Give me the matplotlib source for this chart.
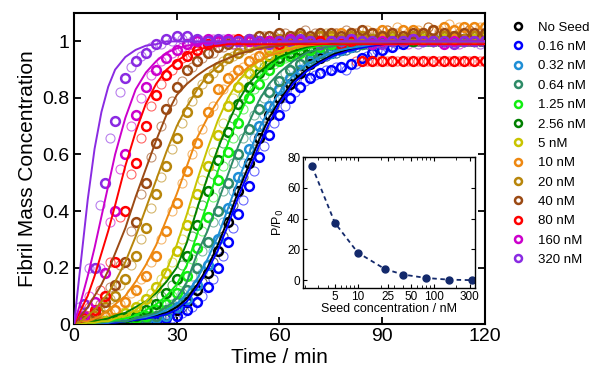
import numpy as np
import matplotlib
matplotlib.use('Agg')
import matplotlib.pyplot as plt
from matplotlib.lines import Line2D
from matplotlib.ticker import LogLocator, FixedLocator, NullFormatter

plt.rcParams['font.family'] = ['Liberation Sans', 'DejaVu Sans']

# time grid of the main measured points (min)
t_data = list(range(0, 121, 3))
# time grid of the replicate points (min)
t_rep = [x + 1.5 for x in range(0, 120, 3)]
# time grid of the fitted curves (min)
t_fit = [0, 2, 4, 6, 8, 10, 12,
         15, 18, 21, 24, 27, 30,
         33, 36, 39, 42, 45, 48,
         51, 54, 57, 60,
         64, 68, 72, 76, 80,
         85, 90, 100, 110, 120]

labels = ['No Seed', '0.16 nM', '0.32 nM', '0.64 nM', '1.25 nM', '2.56 nM', '5 nM',
          '10 nM', '20 nM', '40 nM', '80 nM', '160 nM', '320 nM']
colors = ['#000000', '#0000ff', '#1f8fd6', '#2e8b67', '#11ee11', '#008000', '#c9c400',
          '#ee8811', '#b8860b', '#9b4a14', '#ff0000', '#cc00cc', '#8a2be2']

# measured fibril mass concentration, one list per seed concentration
y_noseed = [0.00, 0.00, 0.00, 0.00, 0.00, 0.00, 0.01, 0.01, 0.01, 0.03, 0.05,
            0.08, 0.12, 0.18, 0.26, 0.36, 0.47, 0.57, 0.66, 0.74, 0.80,
            0.85, 0.89, 0.92, 0.94, 0.96, 0.97, 0.98, 0.99, 0.99, 1.00,
            1.00, 1.00, 1.00, 1.01, 1.00, 1.00, 1.00, 1.01, 1.00, 1.00]
y_016 = [0.00, 0.00, 0.00, 0.00, 0.00, 0.00, 0.00, 0.01, 0.01, 0.02, 0.03,
         0.05, 0.08, 0.13, 0.20, 0.29, 0.39, 0.49, 0.59, 0.67, 0.74,
         0.80, 0.84, 0.87, 0.89, 0.90, 0.91, 0.92, 0.94, 0.96, 0.97,
         0.98, 0.99, 1.00, 1.00, 1.01, 1.00, 1.00, 1.00, 1.01, 1.00]
y_032 = [0.00, 0.00, 0.00, 0.00, 0.00, 0.00, 0.01, 0.01, 0.02, 0.03, 0.06,
         0.09, 0.14, 0.21, 0.30, 0.41, 0.52, 0.62, 0.70, 0.77, 0.83,
         0.87, 0.90, 0.93, 0.95, 0.96, 0.97, 0.98, 0.99, 0.99, 1.00,
         1.00, 1.00, 1.01, 1.00, 1.00, 1.00, 1.01, 1.00, 1.00, 1.00]
y_064 = [0.00, 0.00, 0.00, 0.00, 0.00, 0.01, 0.01, 0.02, 0.03, 0.05, 0.08,
         0.12, 0.20, 0.29, 0.40, 0.50, 0.60, 0.69, 0.76, 0.82, 0.86,
         0.90, 0.92, 0.94, 0.96, 0.97, 0.98, 0.99, 0.99, 1.00, 1.00,
         1.00, 1.01, 1.00, 1.00, 1.01, 1.00, 1.00, 1.00, 1.01, 1.00]
y_125 = [0.00, 0.00, 0.00, 0.00, 0.01, 0.01, 0.02, 0.03, 0.05, 0.07, 0.11,
         0.17, 0.27, 0.38, 0.51, 0.61, 0.71, 0.80, 0.85, 0.90, 0.93,
         0.95, 0.96, 0.97, 0.98, 0.99, 1.00, 1.00, 1.00, 1.01, 1.00,
         1.00, 1.01, 1.00, 1.00, 1.00, 1.01, 1.00, 1.00, 1.00, 1.00]
y_256 = [0.00, 0.00, 0.00, 0.01, 0.01, 0.02, 0.03, 0.05, 0.07, 0.11, 0.16,
         0.24, 0.35, 0.47, 0.58, 0.68, 0.78, 0.84, 0.89, 0.92, 0.94,
         0.96, 0.97, 0.98, 0.99, 1.00, 1.00, 1.00, 1.01, 1.00, 1.00,
         1.01, 1.00, 1.00, 1.01, 1.00, 1.00, 1.01, 1.00, 1.00, 1.00]
y_5 = [0.00, 0.00, 0.01, 0.01, 0.02, 0.04, 0.06, 0.09, 0.13, 0.18, 0.26,
       0.35, 0.46, 0.56, 0.67, 0.77, 0.84, 0.89, 0.92, 0.95, 0.97,
       0.98, 0.99, 1.00, 1.00, 1.01, 1.00, 1.01, 1.01, 1.00, 1.01,
       1.01, 1.00, 1.01, 1.01, 1.00, 1.01, 1.01, 1.00, 1.01, 1.01]
y_10 = [0.00, 0.00, 0.01, 0.03, 0.05, 0.08, 0.12, 0.17, 0.24, 0.33, 0.43,
        0.54, 0.64, 0.75, 0.83, 0.87, 0.90, 0.93, 0.95, 0.97, 0.98,
        0.99, 1.00, 1.01, 1.02, 1.02, 1.03, 1.03, 1.02, 1.03, 1.04,
        1.03, 1.04, 1.04, 1.03, 1.04, 1.05, 1.04, 1.05, 1.05, 1.05]
y_20 = [0.00, 0.01, 0.03, 0.06, 0.10, 0.16, 0.24, 0.34, 0.46, 0.56, 0.66,
        0.75, 0.82, 0.87, 0.91, 0.94, 0.96, 0.98, 0.99, 1.00, 1.01,
        1.01, 1.02, 1.01, 1.02, 1.02, 1.01, 1.02, 1.02, 1.01, 1.02,
        1.02, 1.01, 1.02, 1.02, 1.01, 1.02, 1.02, 1.01, 1.02, 1.02]
y_40 = [0.00, 0.01, 0.04, 0.08, 0.14, 0.22, 0.36, 0.50, 0.64, 0.76, 0.84,
        0.90, 0.93, 0.96, 0.98, 0.99, 1.00, 1.01, 1.02, 1.02, 1.03,
        1.02, 1.03, 1.02, 1.03, 1.03, 1.02, 1.03, 1.04, 1.03, 1.02,
        1.03, 1.02, 1.03, 1.03, 1.04, 1.03, 1.02, 1.03, 1.03, 1.03]
y_80 = [0.00, 0.02, 0.05, 0.10, 0.22, 0.40, 0.57, 0.70, 0.81, 0.88, 0.92,
        0.95, 0.97, 0.99, 1.00, 1.00, 1.01, 1.00, 1.00, 1.00, 0.99,
        1.00, 1.00, 1.00, 1.00, 1.00, 0.99, 1.00, 0.93, 0.93, 0.93,
        0.93, 0.93, 0.93, 0.93, 0.93, 0.93, 0.93, 0.93, 0.93, 0.93]
y_160 = [0.00, 0.03, 0.08, 0.18, 0.40, 0.60, 0.74, 0.84, 0.90, 0.94, 0.97,
         0.99, 1.00, 1.01, 1.00, 1.01, 1.00, 1.00, 0.99, 1.00, 1.00,
         1.01, 1.00, 1.00, 0.99, 1.00, 1.00, 1.01, 1.00, 0.99, 1.00,
         1.00, 1.00, 1.01, 1.00, 1.00, 0.99, 1.00, 1.00, 1.00, 1.00]
y_320 = [0.00, 0.07, 0.20, 0.50, 0.72, 0.87, 0.93, 0.96, 0.99, 1.01, 1.02,
         1.02, 1.01, 1.00, 1.01, 1.00, 1.00, 1.01, 1.00, 0.99, 1.00,
         1.00, 1.01, 1.00, 0.99, 1.00, 1.00, 1.01, 1.00, 1.00, 0.99,
         1.00, 1.00, 1.01, 1.00, 1.00, 1.00, 0.99, 1.00, 1.00, 1.00]

# replicate runs (thin circles)
r_noseed = [0.00, 0.00, 0.00, 0.00, 0.00, 0.00, 0.01, 0.01, 0.02, 0.04,
            0.06, 0.10, 0.15, 0.22, 0.31, 0.42, 0.52, 0.62, 0.70, 0.77,
            0.83, 0.87, 0.90, 0.93, 0.95, 0.96, 0.97, 0.98, 0.99, 0.99,
            1.00, 1.00, 1.00, 1.01, 1.00, 1.00, 1.01, 1.00, 1.00, 1.00]
r_016 = [0.00, 0.00, 0.00, 0.00, 0.00, 0.00, 0.00, 0.01, 0.01, 0.02,
         0.04, 0.06, 0.10, 0.16, 0.24, 0.34, 0.44, 0.54, 0.63, 0.71,
         0.77, 0.82, 0.86, 0.88, 0.90, 0.91, 0.90, 0.92, 0.95, 0.97,
         0.98, 0.99, 1.00, 1.00, 1.01, 1.00, 1.00, 1.01, 1.00, 1.00]
r_032 = [0.00, 0.00, 0.00, 0.00, 0.00, 0.01, 0.01, 0.02, 0.03, 0.05,
         0.08, 0.12, 0.18, 0.26, 0.36, 0.47, 0.57, 0.66, 0.74, 0.80,
         0.85, 0.88, 0.91, 0.93, 0.95, 0.96, 0.97, 0.98, 0.99, 0.99,
         1.00, 1.00, 1.01, 1.00, 1.00, 1.01, 1.00, 1.00, 1.01, 1.00]
r_064 = [0.00, 0.00, 0.00, 0.00, 0.01, 0.01, 0.02, 0.03, 0.05, 0.07,
         0.11, 0.17, 0.26, 0.36, 0.47, 0.57, 0.66, 0.74, 0.80, 0.85,
         0.89, 0.92, 0.94, 0.95, 0.97, 0.98, 0.99, 1.00, 1.00, 1.01,
         1.00, 1.01, 1.00, 1.00, 1.01, 1.00, 1.01, 1.00, 1.00, 1.01]
r_125 = [0.00, 0.00, 0.01, 0.01, 0.01, 0.02, 0.03, 0.05, 0.07, 0.10,
         0.15, 0.23, 0.33, 0.45, 0.56, 0.66, 0.76, 0.83, 0.88, 0.92,
         0.94, 0.96, 0.97, 0.98, 0.99, 1.00, 1.00, 1.01, 1.00, 1.00,
         1.01, 1.00, 1.00, 1.01, 1.00, 1.00, 1.01, 1.00, 1.00, 1.01]
r_256 = [0.00, 0.00, 0.01, 0.01, 0.02, 0.03, 0.05, 0.07, 0.10, 0.14,
         0.21, 0.31, 0.42, 0.53, 0.64, 0.73, 0.81, 0.87, 0.91, 0.93,
         0.95, 0.97, 0.98, 0.99, 1.00, 0.99, 1.00, 1.01, 1.00, 1.01,
         1.00, 1.01, 1.00, 1.01, 1.00, 1.00, 1.01, 1.00, 1.01, 1.00]
r_5 = [0.00, 0.00, 0.01, 0.02, 0.03, 0.05, 0.07, 0.11, 0.16, 0.22,
       0.30, 0.40, 0.51, 0.61, 0.71, 0.80, 0.86, 0.90, 0.93, 0.96,
       0.97, 0.98, 0.99, 1.00, 1.01, 1.00, 1.01, 1.02, 1.01, 1.00,
       1.01, 1.02, 1.01, 1.00, 1.01, 1.02, 1.01, 1.01, 1.00, 1.01]
r_10 = [0.00, 0.01, 0.02, 0.04, 0.07, 0.11, 0.16, 0.22, 0.30, 0.40,
        0.50, 0.60, 0.69, 0.77, 0.83, 0.88, 0.91, 0.94, 0.96, 0.97,
        0.98, 0.99, 1.00, 1.01, 1.02, 1.03, 1.02, 1.03, 1.04, 1.03,
        1.04, 1.05, 1.03, 1.04, 1.05, 1.04, 1.06, 1.05, 1.04, 1.05]
r_20 = [0.00, 0.02, 0.05, 0.09, 0.14, 0.21, 0.30, 0.41, 0.52, 0.62,
        0.71, 0.79, 0.85, 0.89, 0.93, 0.95, 0.97, 0.99, 1.00, 1.01,
        1.01, 1.02, 1.01, 1.02, 1.03, 1.01, 1.02, 1.02, 1.01, 1.02,
        1.02, 1.01, 1.02, 1.03, 1.01, 1.02, 1.02, 1.01, 1.02, 1.02]
r_40 = [0.01, 0.03, 0.07, 0.13, 0.21, 0.33, 0.46, 0.59, 0.70, 0.79,
        0.86, 0.91, 0.94, 0.96, 0.98, 0.99, 1.00, 1.01, 1.02, 1.02,
        1.03, 1.02, 1.04, 1.03, 1.02, 1.03, 1.04, 1.03, 1.02, 1.03,
        1.04, 1.03, 1.02, 1.03, 1.05, 1.03, 1.02, 1.03, 1.04, 1.03]
r_80 = [0.02, 0.06, 0.12, 0.22, 0.38, 0.53, 0.66, 0.77, 0.85, 0.90,
        0.94, 0.96, 0.98, 0.99, 1.00, 1.01, 1.00, 1.00, 0.99, 1.00,
        1.00, 1.01, 1.00, 1.00, 0.99, 1.00, 1.00, 0.93, 0.93, 0.93,
        0.93, 0.93, 0.93, 0.93, 0.93, 0.93, 0.93, 0.93, 0.93, 0.93]
r_160 = [0.03, 0.10, 0.20, 0.36, 0.55, 0.70, 0.80, 0.88, 0.93, 0.96,
         0.98, 0.99, 1.00, 1.01, 1.00, 0.99, 1.00, 1.01, 1.00, 1.00,
         1.00, 0.99, 1.00, 1.01, 1.00, 1.00, 0.99, 1.00, 1.01, 1.00,
         1.00, 1.00, 0.99, 1.00, 1.01, 1.00, 1.00, 0.99, 1.00, 1.00]
r_320 = [0.06, 0.20, 0.42, 0.66, 0.82, 0.91, 0.95, 0.98, 0.99, 1.00,
         1.01, 1.00, 0.99, 1.00, 1.01, 1.00, 0.99, 1.00, 1.00, 0.99,
         1.00, 1.01, 1.00, 0.99, 1.00, 1.00, 1.01, 1.00, 0.99, 1.00,
         1.00, 1.01, 1.00, 0.99, 1.00, 1.00, 1.00, 1.01, 1.00, 0.99]

# fitted curves
f_noseed = [0.00, 0.00, 0.00, 0.00, 0.00, 0.005, 0.005,
            0.01, 0.015, 0.02, 0.03, 0.04, 0.06,
            0.09, 0.14, 0.20, 0.28, 0.37, 0.47,
            0.56, 0.65, 0.73, 0.79,
            0.86, 0.90, 0.93, 0.955, 0.97,
            0.985, 0.99, 1.00, 1.00, 1.00]
f_016 = [0.00, 0.00, 0.00, 0.00, 0.00, 0.005, 0.005,
         0.01, 0.015, 0.02, 0.025, 0.035, 0.05,
         0.08, 0.13, 0.19, 0.26, 0.35, 0.45,
         0.54, 0.63, 0.71, 0.78,
         0.85, 0.895, 0.925, 0.95, 0.965,
         0.98, 0.99, 1.00, 1.00, 1.00]
f_032 = [0.00, 0.00, 0.00, 0.00, 0.005, 0.005, 0.01,
         0.01, 0.02, 0.025, 0.035, 0.05, 0.07,
         0.11, 0.16, 0.23, 0.31, 0.41, 0.51,
         0.60, 0.69, 0.76, 0.82,
         0.88, 0.92, 0.945, 0.965, 0.975,
         0.985, 0.995, 1.00, 1.00, 1.00]
f_064 = [0.00, 0.00, 0.00, 0.005, 0.005, 0.01, 0.01,
         0.01, 0.02, 0.03, 0.04, 0.06, 0.09,
         0.15, 0.25, 0.33, 0.43, 0.53, 0.63,
         0.71, 0.79, 0.85, 0.89,
         0.93, 0.96, 0.975, 0.985, 0.99,
         0.995, 1.00, 1.00, 1.00, 1.00]
f_125 = [0.00, 0.00, 0.005, 0.005, 0.01, 0.01, 0.015,
         0.02, 0.03, 0.05, 0.07, 0.10, 0.14,
         0.21, 0.32, 0.43, 0.54, 0.64, 0.73,
         0.81, 0.87, 0.91, 0.94,
         0.96, 0.975, 0.985, 0.99, 0.995,
         1.00, 1.00, 1.00, 1.00, 1.00]
f_256 = [0.00, 0.00, 0.005, 0.01, 0.015, 0.02, 0.03,
         0.04, 0.06, 0.08, 0.11, 0.15, 0.20,
         0.29, 0.41, 0.52, 0.62, 0.71, 0.79,
         0.85, 0.89, 0.92, 0.945,
         0.965, 0.98, 0.99, 0.995, 1.00,
         1.00, 1.00, 1.00, 1.00, 1.00]
f_5 = [0.00, 0.00, 0.005, 0.005, 0.01, 0.01, 0.02,
       0.03, 0.05, 0.08, 0.12, 0.19, 0.28,
       0.39, 0.51, 0.62, 0.72, 0.80, 0.86,
       0.90, 0.93, 0.95, 0.965,
       0.98, 0.99, 0.995, 1.00, 1.00,
       1.00, 1.00, 1.00, 1.00, 1.00]
f_10 = [0.00, 0.01, 0.01, 0.02, 0.03, 0.05, 0.07,
        0.10, 0.15, 0.21, 0.28, 0.37, 0.46,
        0.56, 0.66, 0.73, 0.79, 0.84, 0.88,
        0.91, 0.93, 0.95, 0.96,
        0.975, 0.985, 0.99, 1.00, 1.00,
        1.00, 1.00, 1.00, 1.00, 1.00]
f_20 = [0.00, 0.01, 0.03, 0.05, 0.08, 0.11, 0.15,
        0.22, 0.31, 0.41, 0.51, 0.61, 0.70,
        0.77, 0.83, 0.88, 0.91, 0.94, 0.96,
        0.97, 0.98, 0.99, 0.99,
        1.00, 1.00, 1.00, 1.00, 1.00,
        1.00, 1.00, 1.00, 1.00, 1.00]
f_40 = [0.00, 0.03, 0.06, 0.10, 0.14, 0.19, 0.25,
        0.34, 0.45, 0.55, 0.65, 0.74, 0.81,
        0.85, 0.88, 0.905, 0.925, 0.94, 0.955,
        0.965, 0.975, 0.98, 0.985,
        0.99, 0.995, 1.00, 1.00, 1.00,
        1.00, 1.00, 1.00, 1.00, 1.00]
f_80 = [0.00, 0.05, 0.10, 0.17, 0.25, 0.33, 0.42,
        0.56, 0.68, 0.78, 0.85, 0.90, 0.93,
        0.955, 0.97, 0.98, 0.985, 0.99, 0.99,
        0.99, 0.99, 0.99, 0.99,
        0.99, 0.99, 0.99, 0.99, 0.99,
        0.99, 0.99, 0.99, 0.99, 0.99]
f_160 = [0.00, 0.08, 0.17, 0.27, 0.38, 0.49, 0.60,
         0.73, 0.83, 0.89, 0.93, 0.96, 0.975,
         0.985, 0.99, 0.995, 1.00, 1.00, 1.00,
         1.00, 1.00, 1.00, 1.00,
         1.00, 1.00, 1.00, 1.00, 1.00,
         1.00, 1.00, 1.00, 1.00, 1.00]
f_320 = [0.00, 0.22, 0.44, 0.62, 0.75, 0.84, 0.90,
         0.945, 0.97, 0.985, 0.99, 1.00, 1.00,
         1.00, 1.00, 1.00, 1.00, 1.00, 1.00,
         1.00, 1.00, 1.00, 1.00,
         1.00, 1.00, 1.00, 1.00, 1.00,
         1.00, 1.00, 1.00, 1.00, 1.00]

data = [y_noseed, y_016, y_032, y_064, y_125, y_256, y_5, y_10, y_20, y_40, y_80, y_160, y_320]
reps = [r_noseed, r_016, r_032, r_064, r_125, r_256, r_5, r_10, r_20, r_40, r_80, r_160, r_320]
fits = [f_noseed, f_016, f_032, f_064, f_125, f_256, f_5, f_10, f_20, f_40, f_80, f_160, f_320]

# inset: P/P0 against seed concentration
seed_conc = [2.5, 5, 10, 23, 40, 80, 160, 320]
p_ratio = [74, 37.3, 18, 7.2, 3.7, 1.5, 0.4, 0.1]

fig = plt.figure(figsize=(5.97, 3.70), dpi=100)
ax = fig.add_axes([0.124, 0.124, 0.688, 0.8405])

for r, c in zip(reps, colors):
    ax.plot(t_rep, r, 'o', mfc='none', mec=c, ms=6.5, mew=0.8, alpha=0.6, zorder=1)
for y, c in zip(data, colors):
    ax.plot(t_data, y, 'o', mfc='none', mec=c, ms=6.3, mew=1.8, zorder=2)
for f, c in zip(fits, colors):
    ax.plot(t_fit, f, '-', color=c, lw=1.4, zorder=3)

ax.set_xlim(0, 120)
ax.set_ylim(0, 1.1)
ax.set_xticks([0, 30, 60, 90, 120])
ax.set_yticks([0, 0.2, 0.4, 0.6, 0.8, 1.0])
ax.set_yticklabels(['0', '0.2', '0.4', '0.6', '0.8', '1'])
ax.tick_params(direction='in', length=5, width=1.3, labelsize=14, top=True, right=True, pad=3)
for s in ax.spines.values():
    s.set_linewidth(1.5)
ax.set_xlabel('Time / min', fontsize=15, labelpad=2)
ax.set_ylabel('Fibril Mass Concentration', fontsize=15, labelpad=4)

handles = [Line2D([], [], ls='none', marker='o', mfc='none', mec=c, ms=5, mew=1.8) for c in colors]
fig.legend(handles, labels, loc='upper left', bbox_to_anchor=(0.857, 0.942), frameon=False,
           fontsize=9.5, handlelength=1.0, handletextpad=1.0, labelspacing=0.54,
           borderpad=0, borderaxespad=0)

ins = fig.add_axes([0.5075, 0.2216, 0.288, 0.354])
ins.plot(seed_conc, p_ratio, '--o', color='#13296b', ms=5, lw=1.3, dashes=(2.5, 2))
ins.set_xscale('log')
ins.set_xlim(1.9, 350)
ins.set_ylim(-5, 80)
ins.xaxis.set_major_locator(FixedLocator([5, 10, 25, 50, 100, 300]))
ins.set_xticklabels(['5', '10', '25', '50', '100', '300'])
ins.xaxis.set_minor_locator(LogLocator(base=10, subs=np.arange(2, 10)))
ins.xaxis.set_minor_formatter(NullFormatter())
ins.set_yticks([0, 20, 40, 60, 80])
ins.tick_params(which='both', direction='in', top=True, right=True, labelsize=8.5, pad=2)
ins.tick_params(which='major', length=3, width=0.8)
ins.tick_params(which='minor', length=2, width=0.6)
for s in ins.spines.values():
    s.set_linewidth(1.0)
ins.set_xlabel('Seed concentration / nM', fontsize=9, labelpad=0)
ins.set_ylabel('P/P$_0$', fontsize=9, labelpad=1)

fig.savefig('out.png', dpi=100)
